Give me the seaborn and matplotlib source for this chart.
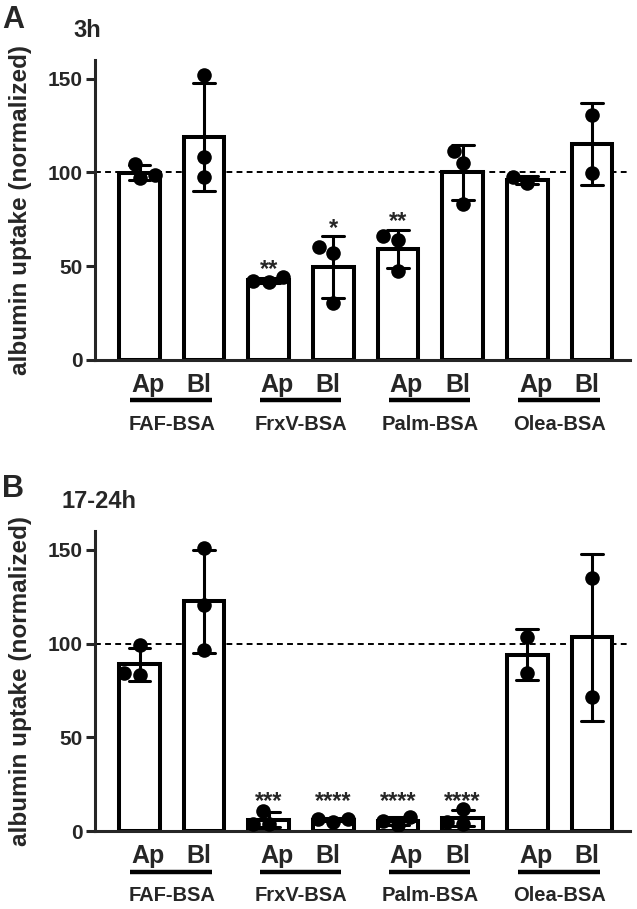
import numpy as np
import pandas as pd
import matplotlib
matplotlib.use("Agg")
import matplotlib.pyplot as plt
import seaborn as sns

sns.set_theme(style="ticks")
plt.rcParams['font.family'] = ['Liberation Sans', 'DejaVu Sans']
plt.rcParams['font.weight'] = 'bold'

# --- data (normalized albumin uptake, individual replicates) ---
groups = ["FAF-BSA", "FrxV-BSA", "Palm-BSA", "Olea-BSA"]
sides = ["Ap", "Bl"]

# 3h, bars in order FAF Ap, FAF Bl, FrxV Ap, FrxV Bl, Palm Ap, Palm Bl, Olea Ap, Olea Bl
uptake_3h = [
    [104.5, 97.0, 98.4],
    [151.8, 108.0, 97.5],
    [41.5, 42.0, 44.0],
    [60.5, 57.3, 30.6],
    [66.3, 64.1, 47.7],
    [111.6, 105.3, 83.3],
    [94.5, 97.5],
    [130.8, 99.6],
]
stars_3h = ["", "", "**", "*", "**", "", "", ""]

# 17-24h
uptake_17h = [
    [99.0, 83.0, 84.5],
    [150.9, 120.3, 96.3],
    [3.5, 4.0, 10.8],
    [6.5, 5.0, 6.5],
    [7.5, 3.0, 5.5],
    [12.0, 4.0, 5.0],
    [103.7, 84.5],
    [134.9, 71.7],
]
stars_17h = ["", "", "***", "****", "****", "****", "", ""]

order = [f"{g} {s}" for g in groups for s in sides]


def long_df(values):
    rows = []
    for cond, reps in zip(order, values):
        for v in reps:
            rows.append({"cond": cond, "uptake": v})
    return pd.DataFrame(rows)


def draw_panel(ax, values, stars, same_level=False):
    df = long_df(values)
    sns.barplot(data=df, x="cond", y="uptake", order=order, errorbar="sd",
                color="white", saturation=1, edgecolor="black", linewidth=2.9,
                width=0.63, capsize=0.34,
                err_kws={"color": "black", "linewidth": 2.2}, ax=ax)
    sns.swarmplot(data=df, x="cond", y="uptake", order=order, color="black",
                  size=10.5, ax=ax, zorder=5)

    ax.axhline(100, color="black", lw=1.4, ls=(0, (3, 2.2)), zorder=0.5)

    ax.set_xlim(-0.69, 7.59)
    ax.set_ylim(0, 160)
    ax.set_yticks([0, 50, 100, 150])
    ax.tick_params(axis="y", length=6.5, width=2.2, labelsize=15, pad=2)
    ax.tick_params(axis="x", bottom=False, labelbottom=False)
    for lab in ax.get_yticklabels():
        lab.set_fontweight("bold")
    sns.despine(ax=ax)
    for sp in ["left", "bottom"]:
        ax.spines[sp].set_linewidth(2.2)
    ax.set_xlabel("")
    ax.set_ylabel("albumin uptake (normalized)", fontsize=17.5, fontweight="bold")
    ax.yaxis.set_label_coords(-0.118, 0.5)

    # significance stars above the error bars
    tops = [np.mean(r) + np.std(r, ddof=1) for r in values]
    starred = [t for t, s in zip(tops, stars) if s]
    for i, s in enumerate(stars):
        if not s:
            continue
        y = (max(starred) + 1) if same_level else (tops[i] + 1)
        ax.text(i, y, s, ha="center", va="baseline", fontsize=17,
                fontweight="bold")

    # Ap / Bl labels, underline and group name
    for i, g in enumerate(groups):
        left, right = 2 * i, 2 * i + 1
        ax.text(left + 0.13, -13.5, "Ap", ha="center", va="center",
                fontsize=18, fontweight="bold", clip_on=False)
        ax.text(right - 0.08, -13.5, "Bl", ha="center", va="center",
                fontsize=18, fontweight="bold", clip_on=False)
        ax.plot([left - 0.14, right + 0.12], [-21.6, -21.6], color="black",
                lw=3.2, clip_on=False, solid_capstyle="butt")
        ax.text(left + 0.5, -34.5, g, ha="center", va="center",
                fontsize=14.5, fontweight="bold", clip_on=False)


fig = plt.figure(figsize=(6.37, 9.09), dpi=100)
ax_a = fig.add_axes([0.149, 0.604, 0.840, 0.330])
ax_b = fig.add_axes([0.149, 0.0858, 0.840, 0.330])

draw_panel(ax_a, uptake_3h, stars_3h)
draw_panel(ax_b, uptake_17h, stars_17h, same_level=True)

fig.text(0.003, 0.969, "A", fontsize=22, fontweight="bold", va="baseline")
fig.text(0.115, 0.959, "3h", fontsize=17, fontweight="bold", va="baseline")
fig.text(0.003, 0.453, "B", fontsize=22, fontweight="bold", va="baseline")
fig.text(0.097, 0.441, "17-24h", fontsize=17, fontweight="bold", va="baseline")

fig.savefig("out.png", dpi=100)
